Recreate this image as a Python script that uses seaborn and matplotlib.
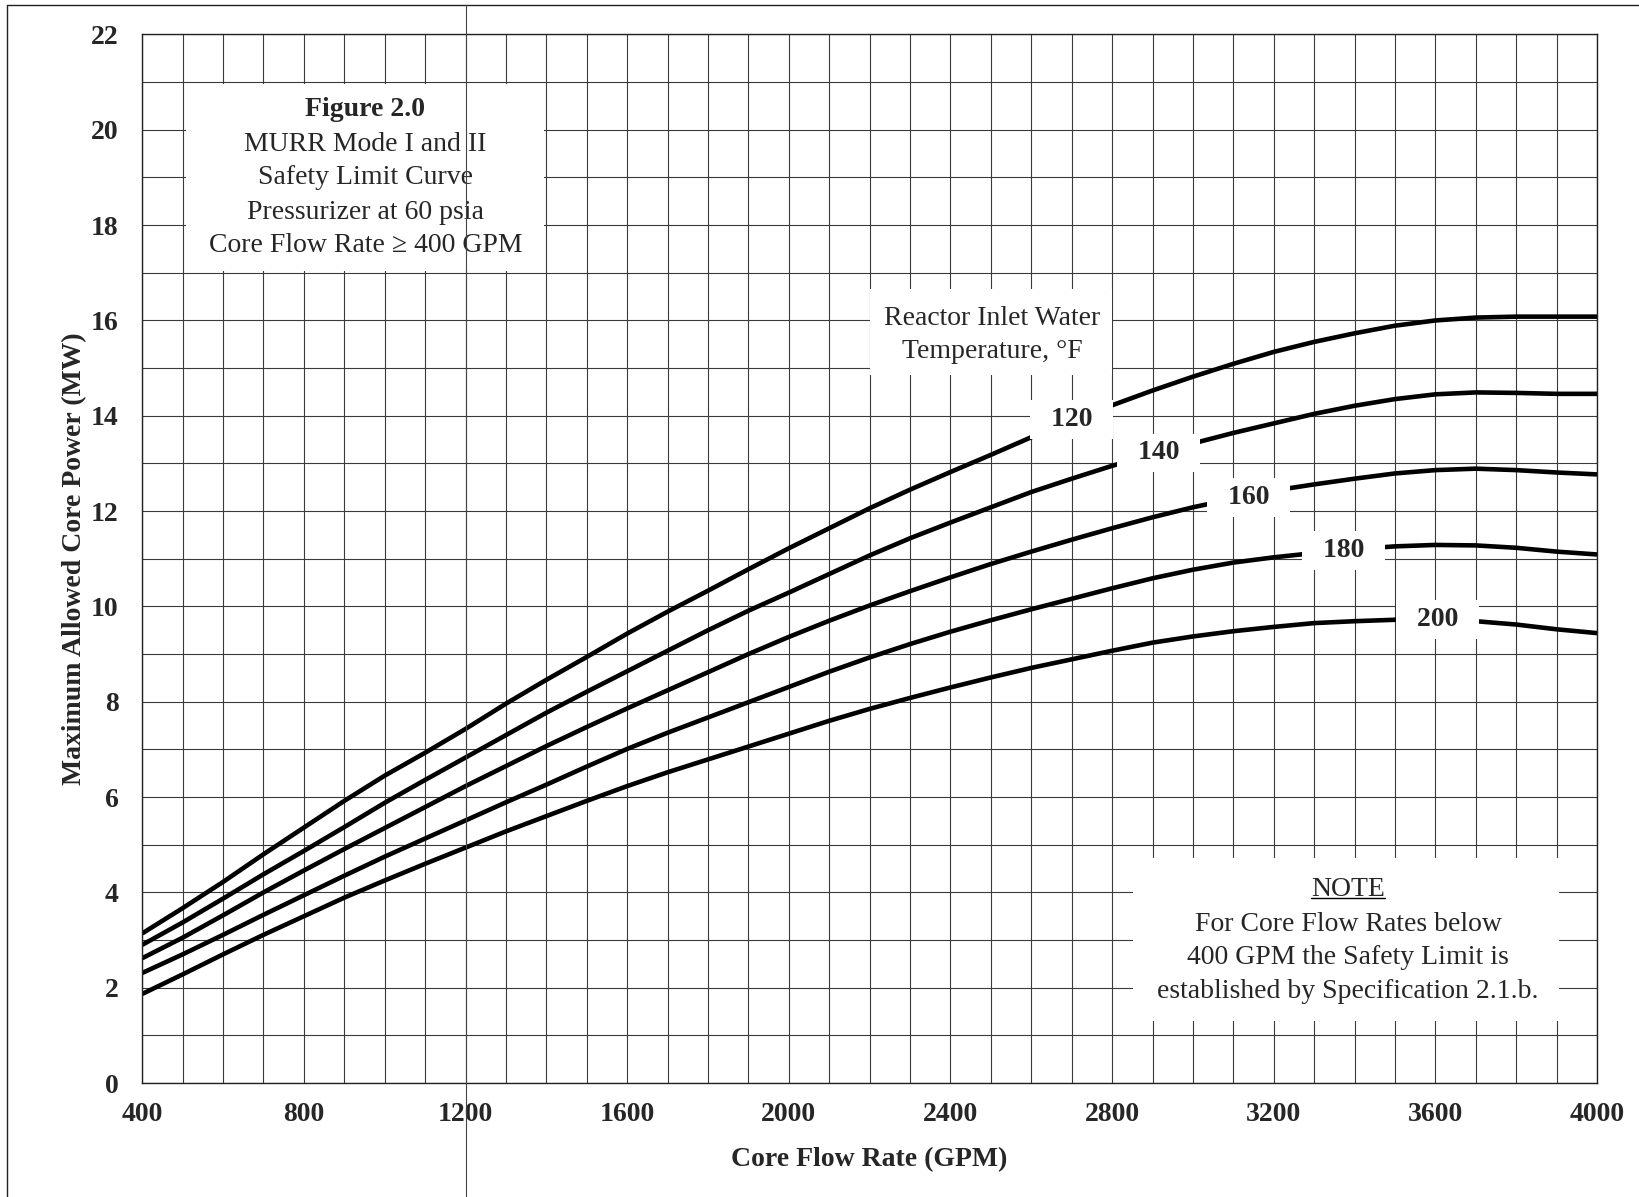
import numpy as np
import pandas as pd
import matplotlib
matplotlib.use("Agg")
import matplotlib.pyplot as plt
import matplotlib.transforms as mtransforms
from matplotlib.lines import Line2D
from matplotlib.patches import Rectangle
import seaborn as sns

# core flow rate (GPM) where the curves were read
flow = list(range(400, 4001, 100))

# maximum allowed core power (MW) for each reactor inlet temperature
power_120 = [3.14, 3.67, 4.22, 4.80, 5.36, 5.92, 6.45, 6.93, 7.43, 7.96, 8.46, 8.94, 9.43,
             9.89, 10.33, 10.78, 11.22, 11.64, 12.06, 12.45, 12.82, 13.18, 13.55, 13.90,
             14.22, 14.53, 14.82, 15.09, 15.34, 15.55, 15.73, 15.89, 16.00, 16.06, 16.08,
             16.08, 16.08]
power_140 = [2.90, 3.37, 3.87, 4.38, 4.87, 5.37, 5.88, 6.36, 6.83, 7.30, 7.77, 8.21, 8.64,
             9.07, 9.50, 9.91, 10.29, 10.68, 11.07, 11.43, 11.76, 12.08, 12.40, 12.68,
             12.95, 13.20, 13.42, 13.64, 13.84, 14.04, 14.21, 14.35, 14.45, 14.49, 14.48,
             14.46, 14.46]
power_160 = [2.62, 3.05, 3.52, 4.00, 4.46, 4.91, 5.35, 5.79, 6.23, 6.65, 7.07, 7.47, 7.86,
             8.24, 8.62, 9.00, 9.36, 9.70, 10.02, 10.32, 10.61, 10.89, 11.15, 11.40,
             11.64, 11.87, 12.08, 12.26, 12.43, 12.56, 12.68, 12.79, 12.86, 12.89, 12.86,
             12.81, 12.77]
power_180 = [2.31, 2.70, 3.11, 3.53, 3.94, 4.35, 4.75, 5.13, 5.51, 5.89, 6.26, 6.64, 7.01,
             7.35, 7.67, 7.99, 8.31, 8.63, 8.93, 9.21, 9.47, 9.71, 9.94, 10.16, 10.38,
             10.59, 10.77, 10.92, 11.03, 11.12, 11.20, 11.26, 11.29, 11.28, 11.23, 11.15,
             11.09]
power_200 = [1.87, 2.28, 2.70, 3.11, 3.50, 3.89, 4.25, 4.60, 4.94, 5.28, 5.60, 5.92, 6.23,
             6.52, 6.79, 7.06, 7.33, 7.60, 7.85, 8.08, 8.30, 8.51, 8.71, 8.89, 9.07, 9.24,
             9.37, 9.48, 9.57, 9.65, 9.69, 9.72, 9.72, 9.69, 9.62, 9.52, 9.44]

temps = [120, 140, 160, 180, 200]
curves = [power_120, power_140, power_160, power_180, power_200]

# where each curve carries its temperature label (flow, power)
label_spots = [(2700, 13.93), (2915, 13.22), (3138, 12.28), (3372, 11.17), (3605, 9.72)]

title_lines = ["Figure 2.0", "MURR Mode I and II", "Safety Limit Curve",
               "Pressurizer at 60 psia", "Core Flow Rate \u2265 400 GPM"]
note_lines = ["NOTE", "For Core Flow Rates below", "400 GPM the Safety Limit is",
              "established by Specification 2.1.b."]
legend_lines = ["Reactor Inlet Water", "Temperature, \u00b0F"]

df = pd.concat([pd.DataFrame({"flow": flow, "power": p, "temp": t})
                for t, p in zip(temps, curves)], ignore_index=True)

sns.set_theme(style="white")
plt.rcParams["font.family"] = ["Liberation Serif", "DejaVu Serif"]

fig = plt.figure(figsize=(16.39, 11.97), dpi=100)
ax = fig.add_axes([0.0868, 0.0952, 0.8876, 0.8760])

sns.lineplot(data=df, x="flow", y="power", hue="temp", palette=["black"] * 5,
             legend=False, linewidth=3.3, estimator=None, sort=False, ax=ax)
for ln in ax.lines:
    ln.set_solid_joinstyle("round")
    ln.set_solid_capstyle("butt")

ax.set_xlim(400, 4000)
ax.set_ylim(0, 22)
ax.set_xticks(range(400, 4001, 400))
ax.set_xticks(range(400, 4001, 100), minor=True)
ax.set_yticks(range(0, 23, 2))
ax.set_yticks(range(0, 23, 1), minor=True)
ax.set_axisbelow(True)
ax.grid(True, which="both", color="#3a3a3a", linewidth=0.8)
ax.tick_params(which="both", length=0)
ax.tick_params(axis="x", pad=14, labelsize=20)
ax.tick_params(axis="y", pad=17, labelsize=20)
for lab in ax.get_xticklabels() + ax.get_yticklabels():
    lab.set_fontweight("bold")
for s in ax.spines.values():
    s.set_color("#222222")
    s.set_linewidth(1.0)

ax.set_xlabel("Core Flow Rate (GPM)", fontsize=20, fontweight="bold")
ax.set_ylabel("Maximum Allowed Core Power (MW)", fontsize=20, fontweight="bold")
ax.xaxis.set_label_coords(0.5, -0.061)
ax.yaxis.set_label_coords(-0.038, 0.5)

# temperature labels sit on white boxes that break the curves
for t, (fx, fy) in zip(temps, label_spots):
    ax.text(fx, fy, "  %d  " % t, ha="center", va="center", fontsize=20,
            fontweight="bold", zorder=6,
            bbox=dict(boxstyle="square,pad=0.25", fc="white", ec="none"))

# title block
ax.add_patch(Rectangle((507, 17.03), 888, 3.94, fc="white", ec="none", zorder=5))
title_y = [20.42, 19.70, 19.00, 18.27, 17.57]
for i, (line, y) in enumerate(zip(title_lines, title_y)):
    ax.text(952, y, line, ha="center", va="center", fontsize=20,
            fontweight="bold" if i == 0 else "normal", zorder=6)

# legend caption
ax.add_patch(Rectangle((2200, 14.85), 600, 1.8, fc="white", ec="none", zorder=5))
for line, y in zip(legend_lines, [16.04, 15.35]):
    ax.text(2503, y, line, ha="center", va="center", fontsize=20, zorder=6)

# note block
ax.add_patch(Rectangle((2851, 1.30), 1055, 3.43, fc="white", ec="none", zorder=5))
note_texts = []
for line, y in zip(note_lines, [4.06, 3.33, 2.63, 1.93]):
    note_texts.append(ax.text(3384, y, line, ha="center", va="center",
                              fontsize=20, zorder=6))

# page frame and the fold running along the 1200 GPM line
fig.add_artist(Line2D([0.004, 0.004], [0.0, 0.996], color="#222222", lw=1.0))
fig.add_artist(Line2D([0.004, 1.0], [0.996, 0.996], color="#222222", lw=1.0))
fold = mtransforms.blended_transform_factory(ax.transData, fig.transFigure)
fig.add_artist(Line2D([1200, 1200], [0.0, 0.996], color="#444444", lw=0.8,
                      transform=fold))

# underline NOTE
fig.canvas.draw()
bb = note_texts[0].get_window_extent()
fig.add_artist(Line2D([bb.x0, bb.x1], [bb.y0 + 4, bb.y0 + 4], color="black", lw=1.0,
                      transform=mtransforms.IdentityTransform(), zorder=7))

fig.savefig("out.png", dpi=100)
